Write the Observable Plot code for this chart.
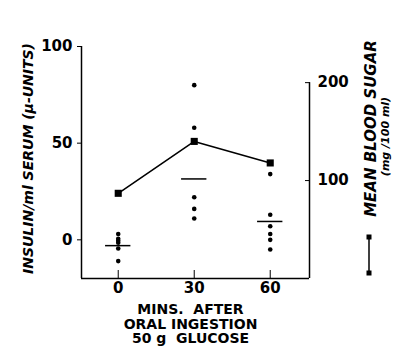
<!DOCTYPE html>
<html><head><meta charset="utf-8">
<script src="https://cdn.jsdelivr.net/npm/d3@7"></script>
<script src="https://cdn.jsdelivr.net/npm/@observablehq/plot@0.6"></script>
<style>body{margin:0;background:#fff}svg{overflow:visible}</style>
</head><body><div id="chart"></div>
<script>
// Data
const times = [0, 30, 60];
const insulinAt0 = [3, 0.5, -0.5, -1.5, -4.5, -11];
const insulinAt30 = [80, 58, 22, 16, 11];
const insulinAt60 = [34, 13, 7, 3, 0, -5];
const insulinMeans = [-3, 31.5, 9.5];
const bloodSugar = [87, 140, 118];
const leftTicks = [0, 50, 100];
const rightTicks = [100, 200];
const xDomain = [-14.5, 75.5];
const yDomain = [-20, 100];

// right axis (mg/100ml) expressed in left-axis units
const sugarToY = r => -20 + r * 101.3 / 200;

const dots = [
  ...insulinAt0.map(v => ({t: 0, v})),
  ...insulinAt30.map(v => ({t: 30, v})),
  ...insulinAt60.map(v => ({t: 60, v}))
];
const means = times.map((t, i) => ({t, v: insulinMeans[i]}));
const sugar = times.map((t, i) => ({t, v: bloodSugar[i]}));

const font = "DejaVu Sans";
const chart = Plot.plot({
  width: 393, height: 346,
  marginLeft: 81, marginRight: 84, marginTop: 46, marginBottom: 68,
  x: {domain: xDomain, label: null},
  y: {domain: yDomain, label: null},
  style: {fontFamily: font, fontWeight: "bold", fontSize: "13px", color: "#000", background: "#fff"},
  marks: [
    Plot.ruleX([xDomain[0]], {y1: yDomain[0], y2: yDomain[1], strokeWidth: 1.5}),
    Plot.ruleX([xDomain[1]], {y1: yDomain[0], y2: sugarToY(200), strokeWidth: 1.5}),
    Plot.ruleY([yDomain[0]], {x1: xDomain[0], x2: xDomain[1], strokeWidth: 1.5}),
    Plot.axisY({ticks: leftTicks, label: null, tickSize: 4, tickPadding: 5, fontSize: 15, fontWeight: "bold"}),
    Plot.axisY({anchor: "right", label: null, ticks: rightTicks.map(sugarToY), tickFormat: d => rightTicks[rightTicks.map(sugarToY).indexOf(d)], tickSize: -5, tickPadding: 13, fontSize: 15, fontWeight: "bold"}),
    Plot.axisX({ticks: times, label: null, tickSize: -8, tickPadding: 12, fontSize: 15, fontWeight: "bold"}),
    Plot.ruleY(means, {y: "v", x1: d => d.t - 5, x2: d => d.t + 5, strokeWidth: 1.5}),
    Plot.dot(dots, {x: "t", y: "v", r: 2.3, fill: "#000"}),
    Plot.line(sugar, {x: "t", y: d => sugarToY(d.v), strokeWidth: 1.6}),
    Plot.dot(sugar, {x: "t", y: d => sugarToY(d.v), symbol: "square", r: 4, fill: "#000"}),
    Plot.text(["INSULIN/ml SERUM (\u00b5-UNITS)"], {frameAnchor: "left", textAnchor: "middle", dx: -53, dy: -4, rotate: -90, fontSize: 14, fontWeight: "bold", fontStyle: "italic"}),
    Plot.text(["MINS.  AFTER\nORAL INGESTION\n50 g  GLUCOSE"], {frameAnchor: "bottom", textAnchor: "middle", dx: -5, dy: 25, lineAnchor: "top", lineHeight: 1.05, fontSize: 14, fontWeight: "bold"}),
    Plot.text(["MEAN BLOOD SUGAR"], {frameAnchor: "right", textAnchor: "middle", dx: 62, dy: -34, rotate: -90, fontSize: 15, fontWeight: "bold", fontStyle: "italic"}),
    Plot.text(["(mg /100 ml)"], {frameAnchor: "right", textAnchor: "middle", dx: 76, dy: -26, rotate: -90, fontSize: 11, fontWeight: "bold", fontStyle: "italic"})
  ]
});
document.getElementById("chart").append(chart);

// legend key: line with square ends
const svg = d3.select(chart);
const g = svg.append("g");
g.append("line").attr("x1", 369).attr("x2", 369).attr("y1", 237).attr("y2", 273).attr("stroke", "#000").attr("stroke-width", 1.5);
g.selectAll("rect").data([237, 273]).join("rect")
  .attr("x", 366.5).attr("y", d => d - 2.5).attr("width", 5).attr("height", 5).attr("fill", "#000");
</script>
</body></html>
